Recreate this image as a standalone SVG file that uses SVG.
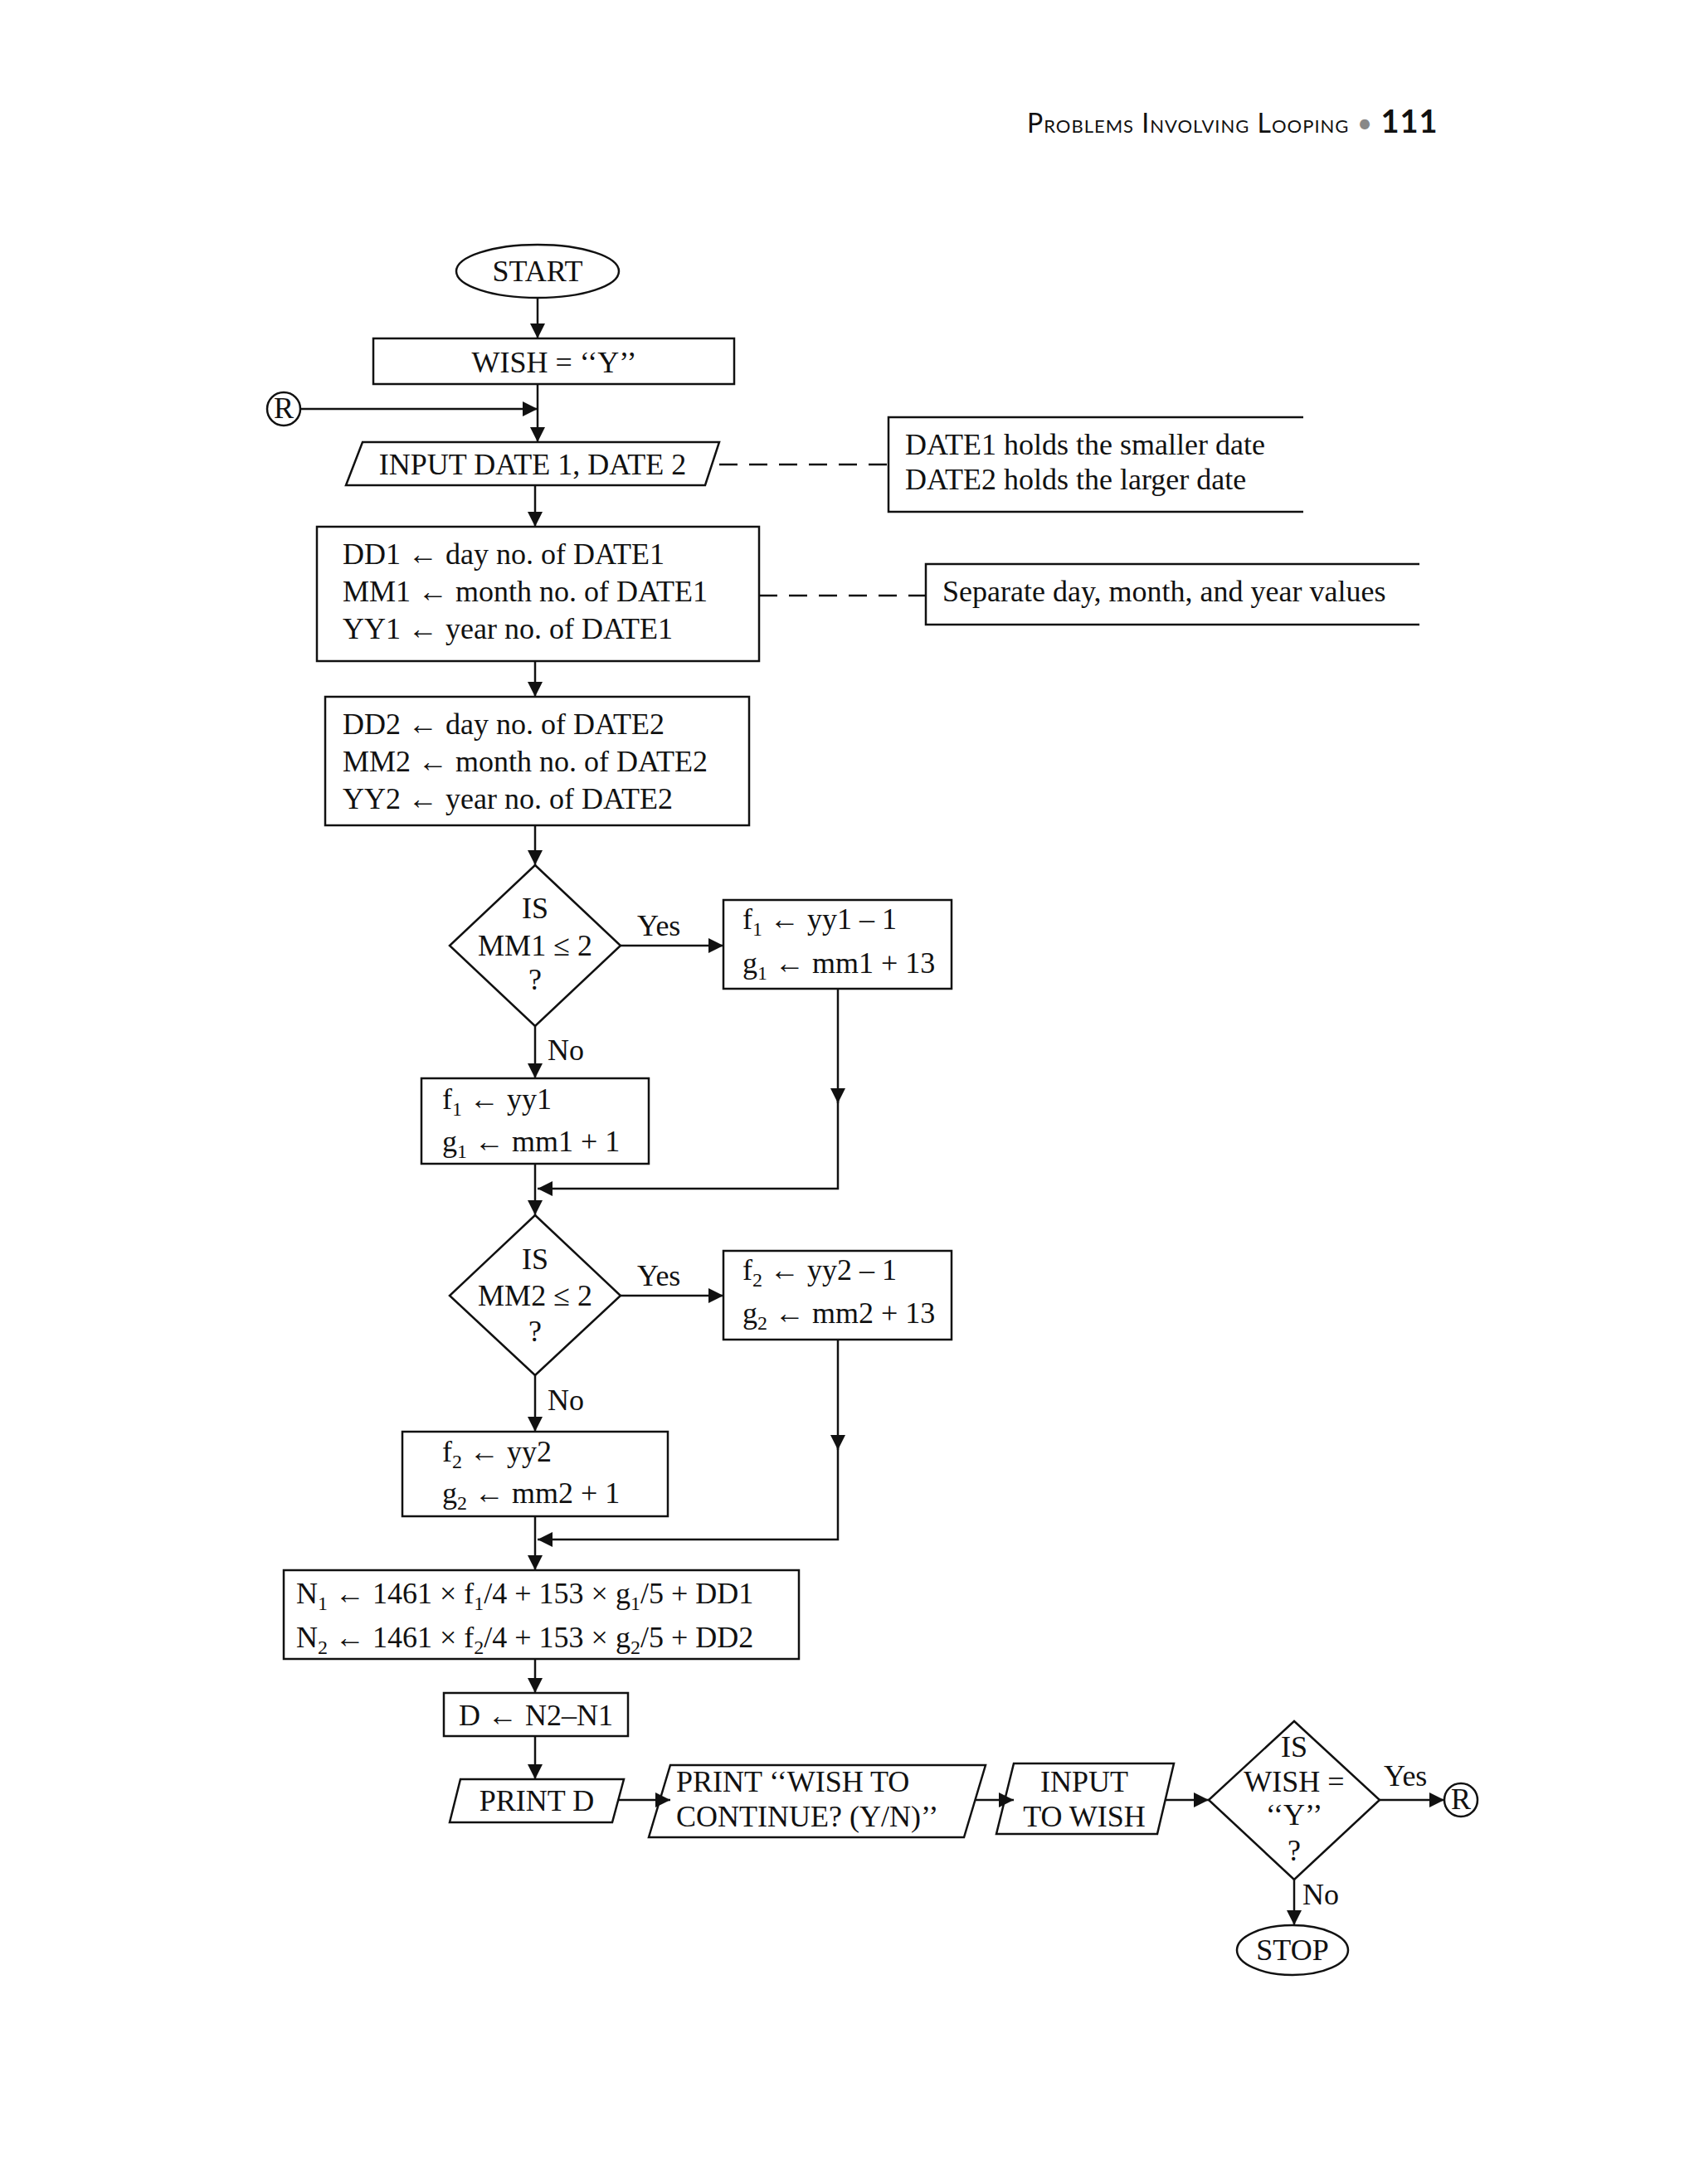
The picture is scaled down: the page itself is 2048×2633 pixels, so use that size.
<svg xmlns="http://www.w3.org/2000/svg" width="2048" height="2633" viewBox="0 0 2048 2633">
<style>
text{font-family:"Liberation Serif","DejaVu Serif",serif;font-size:36px;fill:#111}
.c{text-anchor:middle}
.s{font-size:24px}
.sh{fill:none;stroke:#111;stroke-width:2.5}
.ln{fill:none;stroke:#111;stroke-width:2.5}
.ds{fill:none;stroke:#111;stroke-width:2.5;stroke-dasharray:22 14}
.hd{font-family:"Lato","Liberation Sans",sans-serif;font-size:32px;font-variant:small-caps;letter-spacing:1px}
</style>
<defs>
<marker id="a" viewBox="0 0 10 10" refX="10" refY="5" markerWidth="8" markerHeight="8" markerUnits="userSpaceOnUse" orient="auto"><path d="M0,0L10,5L0,10z" fill="#111"/></marker>
<marker id="b" viewBox="0 0 10 10" refX="10" refY="5" markerWidth="18" markerHeight="18" markerUnits="userSpaceOnUse" orient="auto"><path d="M0,0L10,5L0,10z" fill="#111"/></marker>
</defs>
<rect width="2048" height="2633" fill="#fff"/>
<text class="hd" x="1238" y="160">Problems Involving Looping <tspan fill="#888">•</tspan> <tspan font-weight="bold" font-variant="normal" font-size="38">111</tspan></text>

<g id="connectors">
<line class="ln" x1="648" y1="359" x2="648" y2="408" marker-end="url(#b)"/>
<line class="ln" x1="362" y1="493" x2="648" y2="493" marker-end="url(#b)"/>
<line class="ln" x1="648" y1="463" x2="648" y2="533" marker-end="url(#b)"/>
<line class="ln" x1="645" y1="585" x2="645" y2="635" marker-end="url(#b)"/>
<line class="ds" x1="867" y1="560" x2="1071" y2="560"/>
<line class="ds" x1="915" y1="718" x2="1116" y2="718"/>
<line class="ln" x1="645" y1="797" x2="645" y2="840" marker-end="url(#b)"/>
<line class="ln" x1="645" y1="995" x2="645" y2="1043" marker-end="url(#b)"/>
<line class="ln" x1="748" y1="1140" x2="872" y2="1140" marker-end="url(#b)"/>
<line class="ln" x1="645" y1="1237" x2="645" y2="1300" marker-end="url(#b)"/>
<line class="ln" x1="1010" y1="1192" x2="1010" y2="1330" marker-end="url(#b)"/>
<polyline class="ln" points="1010,1320 1010,1433 648,1433" marker-end="url(#b)"/>
<line class="ln" x1="645" y1="1403" x2="645" y2="1465" marker-end="url(#b)"/>
<line class="ln" x1="748" y1="1562" x2="872" y2="1562" marker-end="url(#b)"/>
<line class="ln" x1="645" y1="1658" x2="645" y2="1726" marker-end="url(#b)"/>
<line class="ln" x1="1010" y1="1615" x2="1010" y2="1748" marker-end="url(#b)"/>
<polyline class="ln" points="1010,1738 1010,1856 648,1856" marker-end="url(#b)"/>
<line class="ln" x1="645" y1="1828" x2="645" y2="1893" marker-end="url(#b)"/>
<line class="ln" x1="645" y1="2000" x2="645" y2="2041" marker-end="url(#b)"/>
<line class="ln" x1="645" y1="2093" x2="645" y2="2145" marker-end="url(#b)"/>
<line class="ln" x1="746" y1="2170" x2="808" y2="2170" marker-end="url(#b)"/>
<line class="ln" x1="1175" y1="2170" x2="1222" y2="2170" marker-end="url(#b)"/>
<line class="ln" x1="1405" y1="2170" x2="1457" y2="2170" marker-end="url(#b)"/>
<line class="ln" x1="1663" y1="2170" x2="1741" y2="2170" marker-end="url(#b)"/>
<line class="ln" x1="1560" y1="2266" x2="1560" y2="2321" marker-end="url(#b)"/>
<text x="768" y="1128">Yes</text>
<text x="660" y="1278">No</text>
<text x="768" y="1550">Yes</text>
<text x="660" y="1700">No</text>
<text x="1668" y="2153">Yes</text>
<text x="1570" y="2296">No</text>
</g>

<g id="start"><ellipse class="sh" cx="648" cy="327" rx="98" ry="32"/><text class="c" x="648" y="339">START</text></g>
<g id="wish"><rect class="sh" x="450" y="408" width="435" height="55"/><text class="c" x="668" y="449">WISH = ‘‘Y’’</text></g>
<g id="r1"><circle class="sh" cx="342" cy="493" r="20"/><text class="c" x="342" y="504" font-size="30">R</text></g>
<g id="input"><polygon class="sh" points="437,533 867,533 850,585 417,585"/><text class="c" x="642" y="572">INPUT DATE 1, DATE 2</text></g>
<g id="note1"><polyline class="sh" points="1571,503 1071,503 1071,617 1571,617"/><text x="1091" y="548">DATE1 holds the smaller date</text><text x="1091" y="590">DATE2 holds the larger date</text></g>
<g id="sep1"><rect class="sh" x="382" y="635" width="533" height="162"/><text x="413" y="680">DD1 ← day no. of DATE1</text><text x="413" y="725">MM1 ← month no. of DATE1</text><text x="413" y="770">YY1 ← year no. of DATE1</text></g>
<g id="note2"><polyline class="sh" points="1711,680 1116,680 1116,753 1711,753"/><text x="1136" y="725">Separate day, month, and year values</text></g>
<g id="sep2"><rect class="sh" x="392" y="840" width="511" height="155"/><text x="413" y="885">DD2 ← day no. of DATE2</text><text x="413" y="930">MM2 ← month no. of DATE2</text><text x="413" y="975">YY2 ← year no. of DATE2</text></g>
<g id="dec1"><polygon class="sh" points="645,1043 748,1140 645,1237 542,1140"/><text class="c" x="645" y="1107">IS</text><text class="c" x="645" y="1152">MM1 ≤ 2</text><text class="c" x="645" y="1193">?</text></g>
<g id="yes1"><rect class="sh" x="872" y="1085" width="275" height="107"/><text x="895" y="1120">f<tspan class="s" dy="8">1</tspan><tspan dy="-8"> ← yy1 – 1</tspan></text><text x="895" y="1173">g<tspan class="s" dy="8">1</tspan><tspan dy="-8"> ← mm1 + 13</tspan></text></g>
<g id="no1"><rect class="sh" x="508" y="1300" width="274" height="103"/><text x="533" y="1337">f<tspan class="s" dy="8">1</tspan><tspan dy="-8"> ← yy1</tspan></text><text x="533" y="1388">g<tspan class="s" dy="8">1</tspan><tspan dy="-8"> ← mm1 + 1</tspan></text></g>
<g id="dec2"><polygon class="sh" points="645,1465 748,1562 645,1658 542,1562"/><text class="c" x="645" y="1530">IS</text><text class="c" x="645" y="1574">MM2 ≤ 2</text><text class="c" x="645" y="1617">?</text></g>
<g id="yes2"><rect class="sh" x="872" y="1508" width="275" height="107"/><text x="895" y="1543">f<tspan class="s" dy="8">2</tspan><tspan dy="-8"> ← yy2 – 1</tspan></text><text x="895" y="1595">g<tspan class="s" dy="8">2</tspan><tspan dy="-8"> ← mm2 + 13</tspan></text></g>
<g id="no2"><rect class="sh" x="485" y="1726" width="320" height="102"/><text x="533" y="1762">f<tspan class="s" dy="8">2</tspan><tspan dy="-8"> ← yy2</tspan></text><text x="533" y="1812">g<tspan class="s" dy="8">2</tspan><tspan dy="-8"> ← mm2 + 1</tspan></text></g>
<g id="calc"><rect class="sh" x="342" y="1893" width="621" height="107"/><text x="357" y="1933">N<tspan class="s" dy="8">1</tspan><tspan dy="-8"> ← 1461 × f</tspan><tspan class="s" dy="8">1</tspan><tspan dy="-8">/4 + 153 × g</tspan><tspan class="s" dy="8">1</tspan><tspan dy="-8">/5 + DD1</tspan></text><text x="357" y="1986">N<tspan class="s" dy="8">2</tspan><tspan dy="-8"> ← 1461 × f</tspan><tspan class="s" dy="8">2</tspan><tspan dy="-8">/4 + 153 × g</tspan><tspan class="s" dy="8">2</tspan><tspan dy="-8">/5 + DD2</tspan></text></g>
<g id="diff"><rect class="sh" x="535" y="2041" width="222" height="52"/><text class="c" x="646" y="2080">D ← N2–N1</text></g>
<g id="printd"><polygon class="sh" points="555,2145 752,2145 738,2197 542,2197"/><text class="c" x="647" y="2183">PRINT D</text></g>
<g id="printwish"><polygon class="sh" points="808,2128 1188,2128 1162,2215 782,2215"/><text x="815" y="2160">PRINT ‘‘WISH TO</text><text x="815" y="2202">CONTINUE? (Y/N)’’</text></g>
<g id="inputwish"><polygon class="sh" points="1222,2126 1415,2126 1395,2211 1201,2211"/><text class="c" x="1307" y="2160">INPUT</text><text class="c" x="1307" y="2202">TO WISH</text></g>
<g id="dec3"><polygon class="sh" points="1560,2075 1663,2170 1560,2266 1457,2170"/><text class="c" x="1560" y="2118">IS</text><text class="c" x="1560" y="2160">WISH =</text><text class="c" x="1560" y="2200">‘‘Y’’</text><text class="c" x="1560" y="2243">?</text></g>
<g id="r2"><circle class="sh" cx="1761" cy="2170" r="20"/><text class="c" x="1761" y="2181" font-size="30">R</text></g>
<g id="stop"><ellipse class="sh" cx="1558" cy="2351" rx="67" ry="30"/><text class="c" x="1558" y="2363">STOP</text></g>
</svg>
